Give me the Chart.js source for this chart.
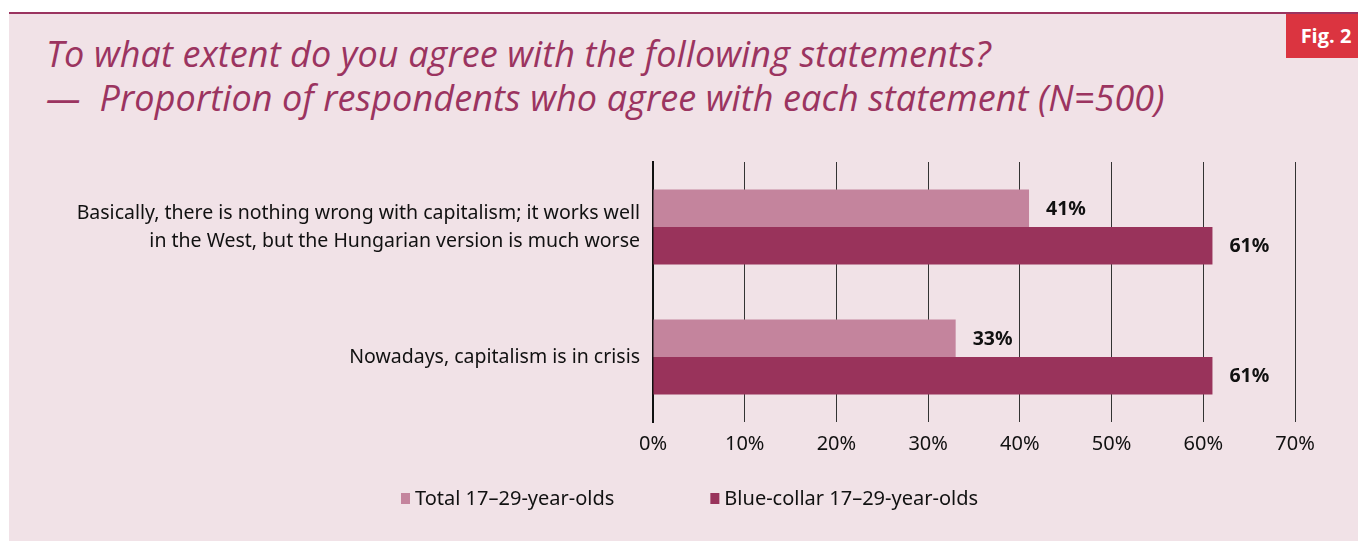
<!DOCTYPE html>
<html><head><meta charset="utf-8">
<script src="https://cdn.jsdelivr.net/npm/chart.js@4/dist/chart.umd.min.js"></script>
<style>
html,body{margin:0;padding:0;background:#fff;width:1358px;height:541px;overflow:hidden;}
#panel{position:absolute;left:9px;top:12px;width:1349px;height:529px;background:#f1e2e7;border-top:2px solid #9b3460;box-sizing:border-box;}
#title{position:absolute;left:46px;top:32px;font-family:"Open Sans",sans-serif;font-style:italic;font-size:36px;line-height:44px;color:#9b3460;white-space:nowrap;letter-spacing:0.1px;}
#fig{position:absolute;left:1286px;top:14px;width:72px;height:44px;background:#db3440;color:#fff;font-family:"Open Sans",sans-serif;font-weight:bold;font-size:20px;line-height:44px;text-align:center;padding-left:8px;box-sizing:border-box;}
#wrap{position:absolute;left:9px;top:140px;width:1349px;height:401px;}
</style></head>
<body>
<div id="panel"></div>
<div id="title">To what extent do you agree with the following statements?<br>—&nbsp; Proportion of respondents who agree with each statement (N=500)</div>
<div id="fig">Fig. 2</div>
<div id="wrap"><canvas id="c"></canvas></div>
<script>
const categories = [
  ["Basically, there is nothing wrong with capitalism; it works well", "in the West, but the Hungarian version is much worse"],
  "Nowadays, capitalism is in crisis"
];
const seriesNames = ["Total 17\u201329-year-olds", "Blue-collar 17\u201329-year-olds"];
const totalValues = [41, 33];
const blueCollarValues = [61, 61];
const xTicks = [0, 10, 20, 30, 40, 50, 60, 70];

const FONT = '"Noto Sans", sans-serif';
const labelPlugin = {
  id: 'valLabels',
  afterDatasetsDraw(chart) {
    const ctx = chart.ctx;
    ctx.save();
    ctx.font = 'bold 19.5px ' + FONT;
    ctx.fillStyle = '#111';
    ctx.textBaseline = 'middle';
    ctx.textAlign = 'left';
    chart.data.datasets.forEach((ds, i) => {
      chart.getDatasetMeta(i).data.forEach((bar, j) => {
        ctx.fillText(ds.data[j] + '%', bar.x + 17, bar.y + 1);
      });
    });
    ctx.restore();
  }
};
const legendPlugin = {
  id: 'customLegend',
  afterDraw(chart) {
    const ctx = chart.ctx;
    ctx.save();
    ctx.font = '20px ' + FONT;
    ctx.textBaseline = 'middle';
    ctx.textAlign = 'left';
    let x = 392;
    const y = 359;
    chart.data.datasets.forEach((ds) => {
      ctx.fillStyle = ds.backgroundColor;
      ctx.fillRect(x, y - 6, 9, 11);
      ctx.fillStyle = '#111';
      ctx.fillText(ds.label, x + 14, y);
      x += 14 + ctx.measureText(ds.label).width + 96;
    });
    ctx.restore();
  }
};

new Chart(document.getElementById('c'), {
  type: 'bar',
  data: {
    labels: categories,
    datasets: [
      { label: seriesNames[0], data: totalValues, backgroundColor: '#c4849d' },
      { label: seriesNames[1], data: blueCollarValues, backgroundColor: '#99335b' }
    ]
  },
  options: {
    indexAxis: 'y',
    responsive: true,
    maintainAspectRatio: false,
    animation: false,
    layout: { padding: { top: 22, right: 63, left: 0, bottom: 79 } },
    datasets: { bar: { categoryPercentage: 0.577, barPercentage: 1.0 } },
    scales: {
      x: {
        min: 0, max: 70,
        afterBuildTicks(s) { s.ticks = xTicks.map(v => ({ value: v })); },
        afterFit(s) { s.height = 40; },
        ticks: { callback: v => v + '%', color: '#111', font: { family: FONT, size: 20 }, padding: 10 },
        grid: { color: '#333', lineWidth: 1, drawTicks: false },
        border: { display: false }
      },
      y: {
        afterFit(s) { s.width = 644; s.paddingTop = 0; s.paddingBottom = 0; },
        ticks: { color: '#111', font: { family: FONT, size: 19.5, lineHeight: 1.436 }, padding: 13 },
        grid: { display: false, drawTicks: false },
        border: { display: true, color: '#111', width: 2 }
      }
    },
    plugins: {
      legend: { display: false },
      tooltip: { enabled: false }
    }
  },
  plugins: [labelPlugin, legendPlugin]
});
</script>
</body></html>
